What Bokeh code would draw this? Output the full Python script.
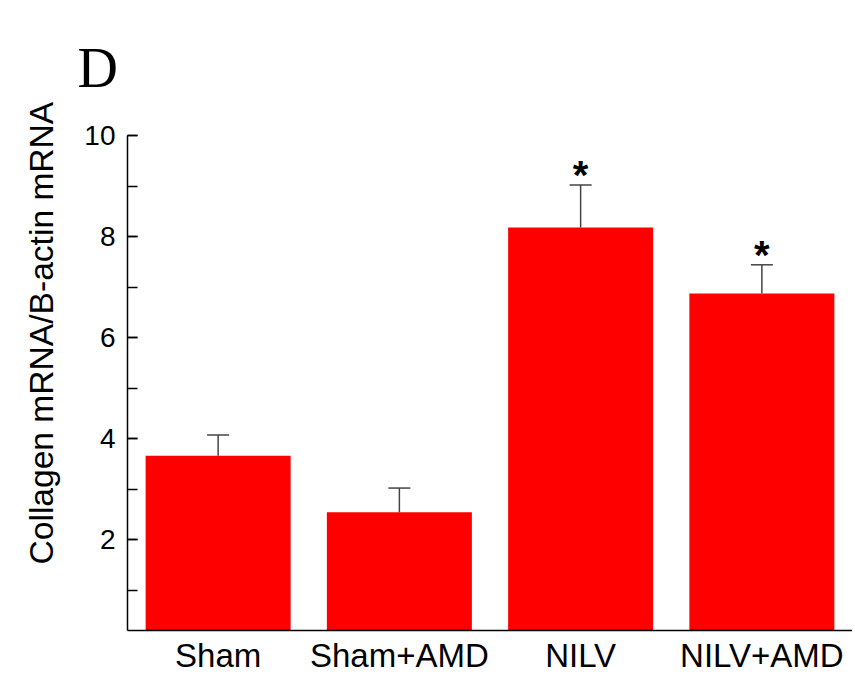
from bokeh.plotting import figure
from bokeh.models import (Range1d, FactorRange, SingleIntervalTicker, Whisker, TeeHead,
                          ColumnDataSource, Title)
from bokeh.core.properties import value
from bokeh.embed import file_html
from bokeh.resources import INLINE

categories = ["Sham", "Sham+AMD", "NILV", "NILV+AMD"]
means = [3.66, 2.54, 8.18, 6.87]
err_top = [4.07, 3.02, 9.02, 7.44]
marks = ["", "", "*", "*"]
y_label = "Collagen mRNA/B-actin mRNA"
panel = "D"

src = ColumnDataSource(dict(cat=categories, mean=means, top=err_top, mark=marks))

p = figure(width=852, height=676, x_range=FactorRange(*categories, range_padding=0),
           y_range=Range1d(0.2, 10), output_backend="svg", toolbar_location=None,
           min_border_left=127, min_border_top=135, min_border_right=0, min_border_bottom=40)
p.outline_line_color = None
p.xgrid.grid_line_color = None
p.ygrid.grid_line_color = None

p.title.text = panel
p.title.align = "left"
p.title.offset = -50
p.title.text_font = "Liberation Serif"
p.title.text_font_size = "56px"
p.title.text_font_style = "normal"
p.title.text_color = "black"
p.title.standoff = 70
p.title.vertical_align = "top"

p.vbar(x="cat", top="mean", bottom=0, width=0.8, source=src, fill_color="#ff0000", line_color=None)

w = Whisker(base="cat", lower="mean", upper="top", source=src, line_color="#444444", line_width=1.5,
            upper_head=TeeHead(size=22, line_color="#444444", line_width=1.5), lower_head=None)
p.add_layout(w)

p.text(x="cat", y="top", text="mark", source=src, text_align="center", text_baseline="alphabetic",
       text_font=value("Liberation Sans"), text_font_style="bold", text_font_size="40px",
       text_color="black", y_offset=-10)

yax = p.yaxis[0]
yax.ticker = SingleIntervalTicker(interval=2, num_minor_ticks=2)
yax.axis_line_width = 1.5
yax.major_tick_in = 10
yax.major_tick_out = 0
yax.minor_tick_in = 10
yax.minor_tick_out = 0
yax.major_tick_line_width = 1.5
yax.minor_tick_line_width = 1.5
yax.major_label_text_font = "Liberation Sans"
yax.major_label_text_font_size = "28px"
yax.major_label_text_color = "black"
yax.major_label_standoff = 12

ytitle = Title(text=y_label, align="left", text_font="Liberation Sans", text_font_size="33.6px",
               text_font_style="normal", text_color="black", offset=66, standoff=40,
               vertical_align="top")
p.add_layout(ytitle, "left")

xax = p.xaxis[0]
xax.axis_line_width = 1.5
xax.major_tick_in = 0
xax.major_tick_out = 0
xax.major_label_text_font = "Liberation Sans"
xax.major_label_text_font_size = "33px"
xax.major_label_text_color = "black"
xax.major_label_standoff = 6

open("out.html", "w").write(file_html(p, INLINE))
